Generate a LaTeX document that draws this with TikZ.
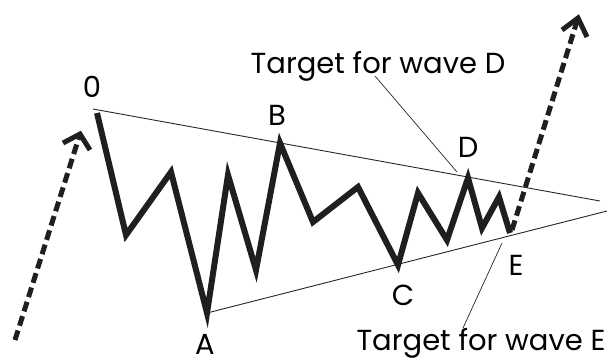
\documentclass[tikz,border=0pt]{standalone}
\usepackage{fontspec}
\setmainfont{Poppins}
\begin{document}
\begin{tikzpicture}[x=1pt,y=-1pt,
  wave/.style={line width=6pt,line join=miter,color=black!88},
  trend/.style={line width=0.9pt,color=black!85},
  leader/.style={line width=0.7pt,color=black!85},
  dasharrow/.style={line width=5pt,dash pattern=on 10pt off 5pt,color=black!88},
  chevron/.style={line width=5pt,line join=miter,color=black!88},
  lbl/.style={font=\fontsize{29}{31}\selectfont,inner sep=0pt,anchor=base},
  tgt/.style={font=\fontsize{29}{31}\selectfont,inner sep=0pt,anchor=base}]
\useasboundingbox (0,0) rectangle (607,360);
% wave points
\coordinate (p0) at (97,113);
\coordinate (w1) at (126,235);
\coordinate (w2) at (171,172);
\coordinate (pA) at (207,313);
\coordinate (w3) at (228,175);
\coordinate (w4) at (256,270);
\coordinate (pB) at (280,143);
\coordinate (w5) at (313,222);
\coordinate (w6) at (358,187);
\coordinate (pC) at (398,265);
\coordinate (w7) at (418,193);
\coordinate (w8) at (447,240);
\coordinate (pD) at (468,178);
\coordinate (w9) at (482,228);
\coordinate (w10) at (499,197);
\coordinate (pE) at (510,233);
% trend lines
\coordinate (u0) at (93,109);
\coordinate (u1) at (600,201);
\coordinate (l1) at (607,211);
\draw[trend] (u0) -- (u1);
\draw[trend] (pA) -- (l1);
% wave
\draw[wave] (p0) -- (w1) -- (w2) -- (pA) -- (w3) -- (w4) -- (pB) -- (w5) -- (w6) -- (pC) -- (w7) -- (w8) -- (pD) -- (w9) -- (w10) -- (pE);
% dashed arrows
\coordinate (ls) at (15,340);
\coordinate (lt) at (80,134);
\coordinate (la) at (63,143);
\coordinate (lb) at (90,150);
\draw[dasharrow] (ls) -- (lt);
\draw[chevron] (la) -- (lt) -- (lb);
\coordinate (rs) at (512,230);
\coordinate (rt) at (578,18);
\coordinate (ra) at (562,30);
\coordinate (rb) at (587,37);
\draw[dasharrow] (rs) -- (rt);
\draw[chevron] (ra) -- (rt) -- (rb);
% labels
\node[lbl] (t0) at (92,97) {0};
\node[lbl] (tB) at (277,125) {B};
\node[lbl] (tA) at (205,354) {A};
\node[lbl] (tC) at (403,305) {C};
\node[lbl] (tD) at (468,157) {D};
\node[lbl] (tE) at (516,275) {E};
\node[tgt] (targD) at (378,73) {Target for wave D};
\node[tgt] (targE) at (481,350) {Target for wave E};
\coordinate (dl0) at (375,76);
\coordinate (dl1) at (457,172);
\coordinate (el0) at (502,243);
\coordinate (el1) at (463,328);
\draw[leader] (dl0) -- (dl1);
\draw[leader] (el0) -- (el1);
\end{tikzpicture}
\end{document}
